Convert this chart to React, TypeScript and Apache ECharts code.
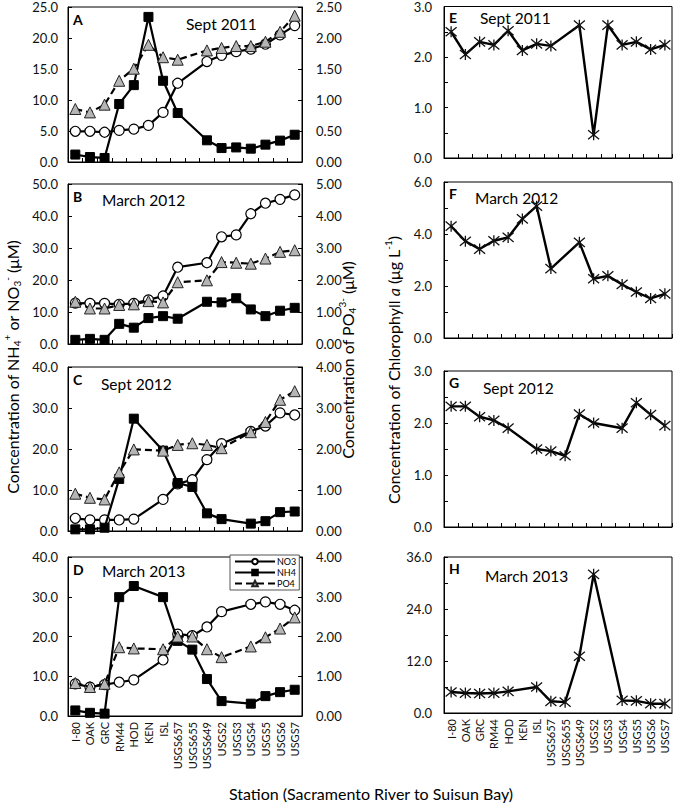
import React, { useEffect, useRef } from 'react';
import * as echarts from 'echarts';

const stations = ['I-80', 'OAK', 'GRC', 'RM44', 'HOD', 'KEN', 'ISL', 'USGS657', 'USGS655', 'USGS649', 'USGS2', 'USGS3', 'USGS4', 'USGS5', 'USGS6', 'USGS7'];

const periods = ['Sept 2011', 'March 2012', 'Sept 2012', 'March 2013'];
const leftLetters = ['A', 'B', 'C', 'D'];
const rightLetters = ['E', 'F', 'G', 'H'];

// Nutrients (µM)
const no3A = [4.95, 4.95, 4.8, 5.1, 5.3, 5.9, 8.0, 12.7, null, 16.2, 17.2, 17.8, 18.2, 19.0, 20.5, 22.0];
const nh4A = [1.2, 0.8, 0.65, 9.35, 12.4, 23.4, 13.1, 7.9, null, 3.5, 2.25, 2.35, 2.15, 2.8, 3.45, 4.4];
const po4A = [0.855, 0.8, 0.925, 1.31, 1.505, 1.89, 1.69, 1.65, null, 1.8, 1.84, 1.87, 1.87, 1.94, 2.1, 2.36];

const no3B = [12.8, 12.7, 12.7, 12.4, 12.7, 13.8, 15.0, 24.0, null, 25.4, 33.5, 34.1, 40.7, 44.0, 45.2, 46.6];
const nh4B = [1.3, 1.6, 1.3, 6.3, 5.1, 8.1, 8.7, 7.9, null, 13.2, 13.0, 14.3, 10.8, 8.7, 10.4, 11.3];
const po4B = [1.32, 1.11, 1.11, 1.22, 1.24, 1.34, 1.3, 1.93, null, 1.99, 2.56, 2.54, 2.51, 2.67, 2.88, 2.93];

const no3C = [3.1, 2.7, 2.7, 2.7, 2.9, null, 7.7, 11.5, 12.5, 17.4, 21.3, null, 24.3, 25.6, 28.8, 28.3];
const nh4C = [0.4, 0.4, 0.8, 12.7, 27.4, null, 19.6, 11.7, 10.75, 4.3, 2.9, null, 1.8, 2.4, 4.6, 4.75];
const po4C = [0.91, 0.81, 0.77, 1.43, 1.99, null, 1.96, 2.1, 2.14, 2.1, 2.02, null, 2.41, 2.66, 3.2, 3.41];

const no3D = [8.1, 7.25, 7.9, 8.5, 9.1, null, 14.1, 20.6, 20.2, 22.4, 26.25, null, 28.1, 28.7, 28.1, 26.6];
const nh4D = [1.4, 0.8, 0.6, 29.9, 32.7, null, 29.9, 18.9, 16.7, 9.3, 3.75, null, 3.1, 5.0, 6.0, 6.6];
const po4D = [0.83, 0.73, 0.81, 1.73, 1.7, null, 1.68, 2.0, 2.0, 1.68, 1.48, null, 1.75, 1.98, 2.2, 2.48];

// Chlorophyll a (µg/L)
const chlE = [2.5, 2.05, 2.3, 2.24, 2.52, 2.13, 2.26, 2.22, null, 2.63, 0.46, 2.63, 2.24, 2.3, 2.15, 2.24];
const chlF = [4.3, 3.72, 3.42, 3.74, 3.87, 4.58, 5.07, 2.67, null, 3.68, 2.28, 2.39, 2.06, 1.77, 1.52, 1.7];
const chlG = [2.32, 2.32, 2.12, 2.05, 1.9, null, 1.5, 1.46, 1.37, 2.17, 2.0, null, 1.9, 2.39, 2.16, 1.95];
const chlH = [4.85, 4.6, 4.5, 4.6, 5.0, null, 6.0, 2.7, 2.5, 13.1, 32.0, null, 2.9, 2.8, 2.15, 2.15];

const leftMax = [25, 50, 40, 40];
const leftStep = [5, 10, 10, 10];
const rightMax = [2.5, 5, 4, 4];
const rightStep = [0.5, 1, 1, 1];
const chlMax = [3, 6, 3, 36];
const chlTick = [0.5, 1, 0.5, 6];
const chlLabelStep = [1, 2, 1, 12];

const no3All = [no3A, no3B, no3C, no3D];
const nh4All = [nh4A, nh4B, nh4C, nh4D];
const po4All = [po4A, po4B, po4C, po4D];
const chlAll = [chlE, chlF, chlG, chlH];

const FONT = 'Lato, "Open Sans", "DejaVu Sans", sans-serif';

// layout
const LEFT_X = 68;
const LEFT_W = 234;
const RIGHT_X = 444;
const RIGHT_W = 228;
const leftTops = [7, 184, 367, 557];
const leftHeights = [155, 160, 164, 159];
const rightTops = [6, 182, 371, 557];
const rightHeights = [152, 156, 156, 156];
const leftPeriodX = [186, 102, 101, 102];
const leftPeriodDy = [17, 16, 17, 14];
const rightPeriodX = [480, 475, 483, 485];
const rightPeriodDy = [12, 16, 17, 19];

function buildOption() {
  const grid: any[] = [];
  const xAxis: any[] = [];
  const yAxis: any[] = [];
  const series: any[] = [];
  const graphic: any[] = [];

  const baseX = (gi: number, showLabels: boolean) => ({
    type: 'category',
    gridIndex: gi,
    data: stations,
    boundaryGap: true,
    axisLine: { show: true, lineStyle: { color: '#000', width: 1 } },
    axisTick: { show: !showLabels, inside: true, length: 4, alignWithLabel: false, interval: 0, lineStyle: { color: '#000' } },
    axisLabel: showLabels
      ? { show: true, rotate: 90, interval: 0, fontSize: 11, fontFamily: FONT, color: '#111', margin: 6 }
      : { show: false, interval: 0 },
    splitLine: { show: false },
  });

  for (let i = 0; i < 4; i++) {
    grid.push({ left: LEFT_X, width: LEFT_W, top: leftTops[i], height: leftHeights[i], show: true, borderColor: '#000', borderWidth: 1, containLabel: false });
    xAxis.push(baseX(i, i === 3));
    const lm = leftMax[i];
    yAxis.push({
      type: 'value', gridIndex: i, min: 0, max: lm, interval: leftStep[i],
      axisLine: { show: true, lineStyle: { color: '#000' } },
      axisTick: { show: true, inside: true, length: 4, lineStyle: { color: '#000' } },
      axisLabel: { fontSize: 13, fontFamily: FONT, color: '#111', margin: 10, formatter: (v: number) => v.toFixed(1) },
      splitLine: { show: false },
    });
    yAxis.push({
      type: 'value', gridIndex: i, position: 'right', min: 0, max: rightMax[i], interval: rightStep[i],
      axisLine: { show: true, lineStyle: { color: '#000' } },
      axisTick: { show: true, inside: true, length: 4, lineStyle: { color: '#000' } },
      axisLabel: { fontSize: 13, fontFamily: FONT, color: '#111', margin: 14, formatter: (v: number) => v.toFixed(2) },
      splitLine: { show: false },
    });
    series.push({
      name: 'NO3', type: 'line', xAxisIndex: i, yAxisIndex: 2 * i, data: no3All[i], connectNulls: true,
      symbol: 'circle', symbolSize: 10, z: 2, showSymbol: true, showAllSymbol: true,
      itemStyle: { color: '#fff', borderColor: '#000', borderWidth: 1.2 },
      lineStyle: { color: '#000', width: 2.2 },
    });
    series.push({
      name: 'NH4', type: 'line', xAxisIndex: i, yAxisIndex: 2 * i, data: nh4All[i], connectNulls: true,
      symbol: 'rect', symbolSize: 9, z: 3, showSymbol: true, showAllSymbol: true,
      itemStyle: { color: '#000', borderColor: '#000', borderWidth: 1 },
      lineStyle: { color: '#000', width: 2.2 },
    });
    series.push({
      name: 'PO4', type: 'line', xAxisIndex: i, yAxisIndex: 2 * i + 1, data: po4All[i], connectNulls: true,
      symbol: 'triangle', symbolSize: 11, z: 4, showSymbol: true, showAllSymbol: true,
      itemStyle: { color: '#b5b5b5', borderColor: '#222', borderWidth: 1 },
      lineStyle: { color: '#000', width: 2.2, type: [7, 4] },
    });
    const top = leftTops[i];
    graphic.push({ type: 'text', x: LEFT_X + 5, y: top + 12, style: { text: leftLetters[i], fontSize: 14, fontWeight: 'bold', fontFamily: FONT, fill: '#000', verticalAlign: 'middle' } });
    graphic.push({ type: 'text', x: leftPeriodX[i], y: top + leftPeriodDy[i], style: { text: periods[i], fontSize: 15.5, fontFamily: FONT, fill: '#000', verticalAlign: 'middle' } });
  }

  for (let j = 0; j < 4; j++) {
    const gi = 4 + j;
    grid.push({ left: RIGHT_X, width: RIGHT_W, top: rightTops[j], height: rightHeights[j], show: true, borderColor: '#000', borderWidth: 1, containLabel: false });
    xAxis.push(baseX(gi, j === 3));
    const ls = chlLabelStep[j];
    yAxis.push({
      type: 'value', gridIndex: gi, min: 0, max: chlMax[j], interval: chlTick[j],
      axisLine: { show: true, lineStyle: { color: '#000' } },
      axisTick: { show: true, inside: true, length: 4, lineStyle: { color: '#000' } },
      axisLabel: {
        fontSize: 13, fontFamily: FONT, color: '#111', margin: 12,
        formatter: (v: number) => (Math.abs(v / ls - Math.round(v / ls)) < 1e-6 ? v.toFixed(1) : ''),
      },
      splitLine: { show: false },
    });
    series.push({
      name: 'Chl', type: 'line', xAxisIndex: gi, yAxisIndex: 8 + j, data: chlAll[j], connectNulls: true,
      symbol: 'path://M0,0L10,10M10,0L0,10M5,-1L5,11', symbolSize: 11, z: 3, showSymbol: true, showAllSymbol: true,
      itemStyle: { color: 'none', borderColor: '#111', borderWidth: 1.3 },
      lineStyle: { color: '#000', width: 2.4 },
    });
    const top = rightTops[j];
    graphic.push({ type: 'text', x: RIGHT_X + 5, y: top + 11, style: { text: rightLetters[j], fontSize: 14, fontWeight: 'bold', fontFamily: FONT, fill: '#000', verticalAlign: 'middle' } });
    graphic.push({ type: 'text', x: rightPeriodX[j], y: top + rightPeriodDy[j], style: { text: periods[j], fontSize: 15.5, fontFamily: FONT, fill: '#000', verticalAlign: 'middle' } });
  }

  const rich = {
    s: { fontSize: 10, fontFamily: FONT, fill: '#000', verticalAlign: 'bottom', lineHeight: 20 },
    p: { fontSize: 10, fontFamily: FONT, fill: '#000', verticalAlign: 'top', lineHeight: 20 },
    i: { fontSize: 16, fontFamily: FONT, fontStyle: 'italic', fill: '#000', lineHeight: 20 },
  };

  graphic.push({
    type: 'text', x: 12, y: 367, rotation: Math.PI / 2,
    style: { text: 'Concentration of NH{s|4}{p|+} or NO{s|3}{p|-} (μM)', rich, fontSize: 16, lineHeight: 20, fontFamily: FONT, fill: '#000', align: 'center', verticalAlign: 'middle' },
  });
  graphic.push({
    type: 'text', x: 347, y: 360, rotation: Math.PI / 2,
    style: { text: 'Concentration of PO{s|4}{p|3-} (μM)', rich, fontSize: 16, lineHeight: 20, fontFamily: FONT, fill: '#000', align: 'center', verticalAlign: 'middle' },
  });
  graphic.push({
    type: 'text', x: 393, y: 370, rotation: Math.PI / 2,
    style: { text: 'Concentration of Chlorophyll {i|a} (μg L{p|-1})', rich, fontSize: 16, lineHeight: 20, fontFamily: FONT, fill: '#000', align: 'center', verticalAlign: 'middle' },
  });
  graphic.push({
    type: 'text', x: 371, y: 793,
    style: { text: 'Station (Sacramento River to Suisun Bay)', fontSize: 16, fontFamily: FONT, fill: '#000', align: 'center', verticalAlign: 'middle' },
  });

  return {
    animation: false,
    backgroundColor: '#fff',
    textStyle: { fontFamily: FONT },
    grid,
    xAxis,
    yAxis,
    series,
    graphic,
    legend: {
      data: ['NO3', 'NH4', 'PO4'],
      orient: 'vertical',
      left: 230,
      top: 555,
      itemWidth: 40,
      itemHeight: 7,
      itemGap: 2,
      padding: [2, 3, 2, 4],
      borderColor: '#555',
      borderWidth: 1,
      backgroundColor: '#fff',
      selectedMode: false,
      textStyle: { fontSize: 9, fontFamily: FONT, color: '#000', padding: [0, 0, 0, -3] },
      z: 10,
    },
  };
}

export default function App() {
  const ref = useRef<HTMLDivElement>(null);
  useEffect(() => {
    document.body.style.margin = '0';
    if (!ref.current) return;
    const chart = echarts.init(ref.current, undefined, { renderer: 'svg' });
    chart.setOption(buildOption() as any);
    return () => chart.dispose();
  }, []);
  return <div ref={ref} style={{ width: 680, height: 804 }} />;
}
